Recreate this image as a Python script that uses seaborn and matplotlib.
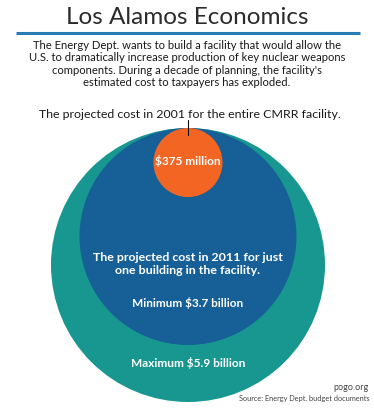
import numpy as np
import matplotlib
matplotlib.use("Agg")
import matplotlib.pyplot as plt
from matplotlib.patches import Circle
import seaborn as sns

# costs in billions of dollars
labels = ["Maximum 2011", "Minimum 2011", "2001 estimate"]
costs = [5.9, 3.7, 0.375]
colors = ["#17978f", "#165f97", "#f26522"]

title = "Los Alamos Economics"
subtitle = ("The Energy Dept. wants to build a facility that would allow the\n"
            "U.S. to dramatically increase production of key nuclear weapons\n"
            "components. During a decade of planning, the facility's\n"
            "estimated cost to taxpayers has exploded.")

sns.set_style("white")
plt.rcParams['font.family'] = ['Lato', 'DejaVu Sans']

fig = plt.figure(figsize=(3.74, 4.09), dpi=100)
ax = fig.add_axes([0, 0, 1, 1])
ax.set_xlim(0, 374)
ax.set_ylim(409, 0)
ax.set_aspect('equal')
ax.axis('off')

# area-proportional circles, all touching at the top
cx, top = 188, 128
r_max = 137
for cost, col in zip(costs, colors):
    r = r_max * np.sqrt(cost / max(costs))
    ax.add_patch(Circle((cx, top + r), r, color=col, lw=0))

ax.text(187, 18, title, ha='center', va='center', fontsize=17.5, color='#2b2b2b')
ax.plot([16, 360], [32.5, 32.5], color='#2a7db4', lw=2.2, solid_capstyle='butt')
ax.text(187, 64, subtitle, ha='center', va='center', fontsize=8.1,
        color='#1a1a1a', linespacing=1.15)

ax.text(190, 115, "The projected cost in 2001 for the entire CMRR facility.",
        ha='center', va='center', fontsize=8.9, color='#1a1a1a')
ax.plot([cx, cx], [120, 135], color='#111111', lw=0.8)

ax.text(cx, 161, "$375 million", ha='center', va='center', fontsize=8.6,
        color='white', fontweight='bold')
ax.text(cx, 264, "The projected cost in 2011 for just\none building in the facility.",
        ha='center', va='center', fontsize=8.9, color='white',
        fontweight='bold', linespacing=1.3)
ax.text(cx, 303, "Minimum $3.7 billion", ha='center', va='center', fontsize=8.5,
        color='white', fontweight='bold')
ax.text(cx, 363, "Maximum $5.9 billion", ha='center', va='center', fontsize=8.6,
        color='white', fontweight='bold')

ax.text(369, 388, "pogo.org", ha='right', va='center', fontsize=6.5, color='#444444')
ax.text(370, 398, "Source: Energy Dept. budget documents", ha='right', va='center',
        fontsize=5.3, color='#444444')

fig.savefig("out.png", dpi=100)
